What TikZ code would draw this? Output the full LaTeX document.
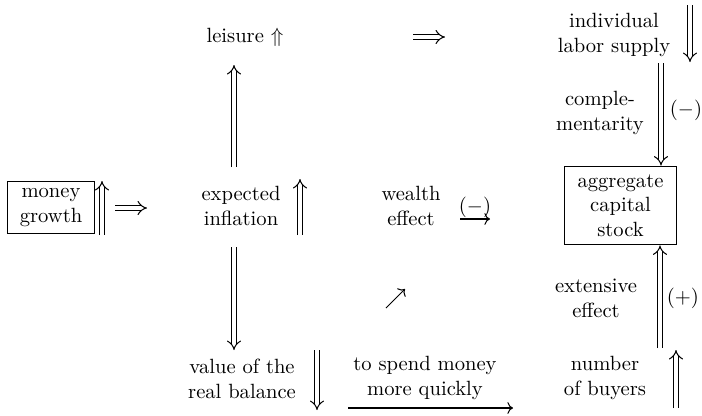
\documentclass[tikz,border=0pt]{standalone}
\usetikzlibrary{arrows.meta}
\begin{document}
\begin{tikzpicture}[x=0.4854pt,y=-0.4854pt,
  txt/.style={align=center,inner sep=0pt},
  boxed/.style={draw,line width=0.5pt,align=center,inner sep=0pt},
  dbl/.style={double,double distance=1.9pt,line width=0.5pt,-{Implies}},
  sgl/.style={line width=0.5pt,-{Computer Modern Rightarrow}}]
\useasboundingbox (0,0) rectangle (702,415);
% nodes
\node[boxed,minimum width=42.7pt,minimum height=25.2pt] (money) at (51,207.5) {money\\growth};
\node[txt] (infl) at (241,206) {expected\\inflation};
\node[txt] (leis) at (245,37) {leisure $\Uparrow$};
\node[txt] (indiv) at (614,35) {individual\\labor supply};
\node[txt] (compl) at (600,113) {comple-\\mentarity};
\node[txt] (minusA) at (686,110) {$(-)$};
\node[boxed,minimum width=53.9pt,minimum height=38.3pt] (agg) at (620.5,205.5) {aggregate\\capital\\stock};
\node[txt] (wealth) at (411,206) {wealth\\effect};
\node[txt] (minusB) at (475,207) {$(-)$};
\node[txt] (ext) at (596,298) {extensive\\effect};
\node[txt] (plus) at (683,298) {$(+)$};
\node[txt] (value) at (242,379) {value of the\\real balance};
\node[txt] (spend) at (425,378) {to spend money\\more quickly};
\node[txt] (buyers) at (605,378) {number\\of buyers};
% coordinates
\coordinate (m1) at (102,235); \coordinate (m2) at (102,181);
\coordinate (i1) at (115,208); \coordinate (i2) at (147,208);
\coordinate (e1) at (300,235); \coordinate (e2) at (300,179);
\coordinate (u1) at (234,167); \coordinate (u2) at (234,65);
\coordinate (d1) at (234,247); \coordinate (d2) at (234,350);
\coordinate (t1) at (413,37); \coordinate (t2) at (445,37);
\coordinate (l1) at (690,5); \coordinate (l2) at (690,62);
\coordinate (c1) at (661,63);
\coordinate (x1) at (660,348);
\coordinate (b1) at (676,408); \coordinate (b2) at (676,350);
\coordinate (v1) at (317,350); \coordinate (v2) at (317,410);
\coordinate (s1) at (348,408); \coordinate (s2) at (513,408);
\coordinate (n1) at (386,308); \coordinate (n2) at (405,289);
\coordinate (w1) at (460,219); \coordinate (w2) at (490,219);
% arrows
\draw[dbl] (m1) -- (m2);
\draw[dbl] (i1) -- (i2);
\draw[dbl] (e1) -- (e2);
\draw[dbl] (u1) -- (u2);
\draw[dbl] (d1) -- (d2);
\draw[dbl] (t1) -- (t2);
\draw[dbl] (l1) -- (l2);
\draw[dbl] (c1) -- (c1 |- agg.north);
\draw[dbl] (x1) -- (x1 |- agg.south);
\draw[dbl] (b1) -- (b2);
\draw[dbl] (v1) -- (v2);
\draw[sgl] (s1) -- (s2);
\draw[sgl] (n1) -- (n2);
\draw[sgl] (w1) -- (w2);
\end{tikzpicture}
\end{document}
